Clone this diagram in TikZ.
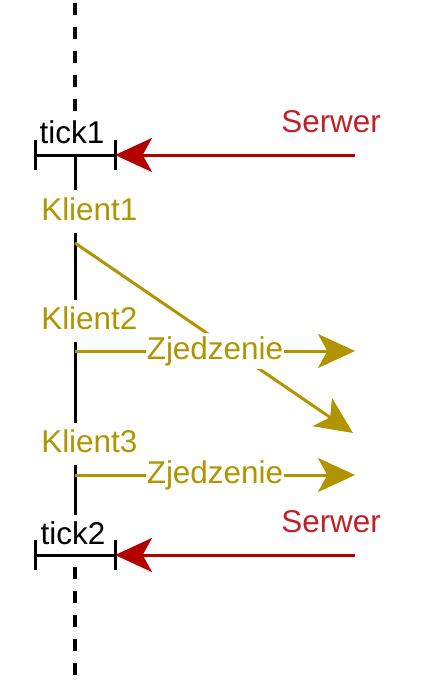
\documentclass[tikz,border=0pt]{standalone}
\usepackage{fontspec}
\setmainfont{Liberation Sans}
\usetikzlibrary{arrows.meta}
\definecolor{srvred}{RGB}{178,0,0}
\definecolor{srvtext}{RGB}{192,32,40}
\definecolor{cliol}{RGB}{176,149,0}
\tikzset{
  lbl/.style={font=\fontsize{23.6}{28}\selectfont, inner sep=0pt},
  tl/.style={draw=black, line width=2.25pt},
  tldash/.style={draw=black, line width=3pt, dash pattern=on 9pt off 9pt},
  bigtip/.style={-{Stealth[length=27.75pt, width=25.5pt, inset=7pt]}},
  srvarrow/.style={draw=srvred, line width=2.25pt, bigtip},
  cliarrow/.style={draw=cliol, line width=2.25pt, bigtip},
  zlabel/.style={lbl, text=cliol, fill=white, inner xsep=0.6pt, minimum height=27pt}
}
\begin{document}
\begin{tikzpicture}[x=0.75pt, y=-0.75pt]
\useasboundingbox (0,0) rectangle (426,686);

% timeline dashed parts
\coordinate (dTop) at (75,3);
\coordinate (dTopEnd) at (75,117);
\coordinate (dBot) at (75,567);
\coordinate (dBotEnd) at (75,686);
\draw[tldash] (dTop) -- (dTopEnd);
\draw[tldash] (dBot) -- (dBotEnd);

% tick1 bar
\coordinate (t1L) at (35,155);
\coordinate (t1C) at (75,155);
\coordinate (t1R) at (115,155);
\draw[tl] (t1L) -- (t1R);
\draw[tl] ([yshift=11.25pt]t1L) -- ([yshift=-11.25pt]t1L);
\draw[tl] ([yshift=11.25pt]t1R) -- ([yshift=-11.25pt]t1R);

% tick2 bar
\coordinate (t2L) at (35,555);
\coordinate (t2C) at (75,555);
\coordinate (t2R) at (115,555);
\draw[tl] (t2L) -- (t2R);
\draw[tl] ([yshift=11.25pt]t2L) -- ([yshift=-11.25pt]t2L);
\draw[tl] ([yshift=11.25pt]t2R) -- ([yshift=-11.25pt]t2R);

% solid timeline segments
\coordinate (s1e) at (75,190);
\coordinate (s2s) at (75,233);
\coordinate (s2e) at (75,300);
\coordinate (s3s) at (75,342);
\coordinate (s3e) at (75,423);
\coordinate (s4s) at (75,465);
\coordinate (s4e) at (75,515);
\draw[tl] (t1C) -- (s1e);
\draw[tl] (s2s) -- (s2e);
\draw[tl] (s3s) -- (s3e);
\draw[tl] (s4s) -- (s4e);

% labels
\node[lbl, anchor=base] (tick1) at (72,143) {tick1};
\node[lbl, anchor=base] (tick2) at (73,544) {tick2};
\node[lbl, anchor=base west, text=cliol] (klient1) at (41,220) {Klient1};
\node[lbl, anchor=base west, text=cliol] (klient2) at (41,329) {Klient2};
\node[lbl, anchor=base west, text=cliol] (klient3) at (41,452) {Klient3};
\node[lbl, anchor=base west, text=srvtext] (serwer1) at (281,132) {Serwer};
\node[lbl, anchor=base west, text=srvtext] (serwer2) at (281,532) {Serwer};

% server arrows
\coordinate (sv1) at (355,155);
\coordinate (sv2) at (355,555);
\draw[srvarrow] (sv1) -- (t1R);
\draw[srvarrow] (sv2) -- (t2R);

% client 1 diagonal
\coordinate (c1s) at (75,243);
\coordinate (c1e) at (353,433);
\draw[cliarrow] (c1s) -- (c1e);

% client 2 and 3 arrows
\coordinate (c2s) at (75,351);
\coordinate (c2e) at (355,351);
\coordinate (c3s) at (75,475);
\coordinate (c3e) at (355,475);
\draw[cliarrow] (c2s) -- node[zlabel] (z2) {Zjedzenie} (c2e);
\draw[cliarrow] (c3s) -- node[zlabel] (z3) {Zjedzenie} (c3e);
\end{tikzpicture}
\end{document}
